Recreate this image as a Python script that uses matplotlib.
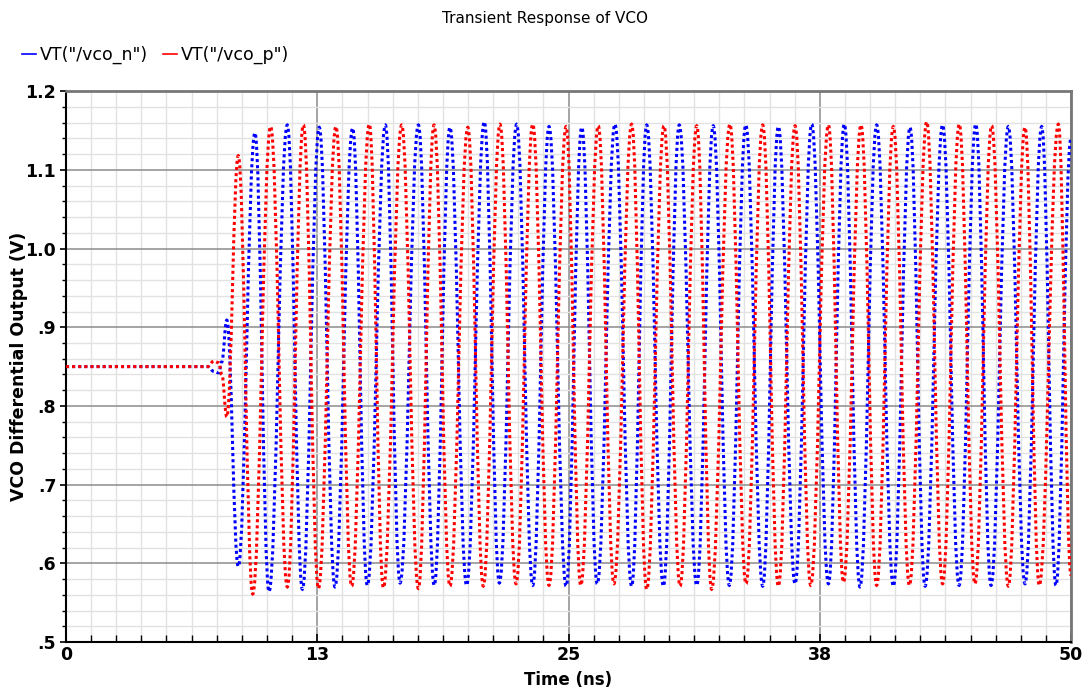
import numpy as np
import matplotlib
matplotlib.use("Agg")
import matplotlib.pyplot as plt
from matplotlib.ticker import MultipleLocator, FixedLocator
from matplotlib.lines import Line2D
from matplotlib.path import Path
from matplotlib.patches import PathPatch

# extrema of each waveform (time in ns, volts)
vco_n_t = [0, 7.05, 7.35, 7.6, 7.75, 8.0, 8.57, 9.40, 10.10, 11.01, 11.76, 12.60, 13.38,
           14.26, 14.99, 15.89, 16.62, 17.53, 18.32, 19.10, 19.93, 20.81, 21.56, 22.42,
           23.22, 24.03, 24.88, 25.66, 26.43, 27.31, 28.14, 28.89, 29.72, 30.51, 31.38,
           32.20, 33.00, 33.82, 34.66, 35.44, 36.27, 37.10, 37.93, 38.72, 39.50, 40.33,
           41.16, 41.99, 42.74, 43.61, 44.43, 45.26, 46.02, 46.88, 47.71, 48.54, 49.25, 50.0]
vco_n_v = [0.85, 0.85, 0.844, 0.842, 0.856, 0.909, 0.596, 1.147, 0.564, 1.157, 0.567, 1.154,
           0.570, 1.153, 0.572, 1.157, 0.575, 1.157, 0.572, 1.154, 0.572, 1.161, 0.575, 1.158,
           0.572, 1.155, 0.571, 1.154, 0.574, 1.158, 0.571, 1.157, 0.571, 1.157, 0.572, 1.156,
           0.572, 1.157, 0.571, 1.155, 0.574, 1.158, 0.574, 1.158, 0.570, 1.157, 0.571, 1.154,
           0.571, 1.157, 0.572, 1.158, 0.572, 1.155, 0.574, 1.155, 0.572, 1.14]

vco_p_t = [0, 7.05, 7.35, 7.6, 7.75, 8.0, 8.57, 9.29, 10.18, 11.01, 11.81, 12.56, 13.43,
           14.21, 15.09, 15.79, 16.70, 17.53, 18.31, 19.10, 19.99, 20.76, 21.59, 22.39,
           23.22, 24.03, 24.88, 25.61, 26.48, 27.26, 28.14, 28.89, 29.75, 30.55, 31.38,
           32.12, 33.03, 33.83, 34.66, 35.44, 36.27, 37.05, 37.93, 38.68, 39.55, 40.33,
           41.16, 41.96, 42.82, 43.61, 44.44, 45.22, 46.05, 46.88, 47.71, 48.42, 49.37, 50.0]
vco_p_v = [0.85, 0.85, 0.857, 0.855, 0.84, 0.786, 1.118, 0.561, 1.155, 0.570, 1.157, 0.568,
           1.155, 0.571, 1.158, 0.569, 1.157, 0.568, 1.157, 0.571, 1.154, 0.571, 1.158, 0.574,
           1.158, 0.572, 1.155, 0.572, 1.156, 0.574, 1.158, 0.567, 1.156, 0.571, 1.156, 0.567,
           1.158, 0.574, 1.157, 0.571, 1.156, 0.572, 1.157, 0.576, 1.157, 0.572, 1.155, 0.572,
           1.161, 0.574, 1.158, 0.574, 1.156, 0.571, 1.154, 0.572, 1.158, 0.585]

x_ticks = [0, 12.5, 25, 37.5, 50]
x_labels = ["0", "13", "25", "38", "50"]
y_ticks = [0.5, 0.6, 0.7, 0.8, 0.9, 1.0, 1.1, 1.2]
y_labels = [".5", ".6", ".7", ".8", ".9", "1.0", "1.1", "1.2"]


def smooth_trace(ax, t, v, color, z):
    # join the extrema with bezier segments that are flat at each extremum
    verts = [(t[0], v[0])]
    codes = [Path.MOVETO]
    for i in range(1, len(t)):
        dt = t[i] - t[i - 1]
        verts += [(t[i - 1] + 0.4 * dt, v[i - 1]), (t[i] - 0.4 * dt, v[i]), (t[i], v[i])]
        codes += [Path.CURVE4] * 3
    patch = PathPatch(Path(verts, codes), fill=False, edgecolor=color, lw=2.2,
                      ls=(0, (1, 1)), zorder=z)
    ax.add_patch(patch)


fig = plt.figure(figsize=(10.89, 6.96), dpi=100)
ax = fig.add_axes([0.0606, 0.0776, 0.9229, 0.7914])

smooth_trace(ax, vco_n_t, vco_n_v, "#0000ff", 3)
smooth_trace(ax, vco_p_t, vco_p_v, "#ff0000", 4)

ax.set_xlim(0, 50)
ax.set_ylim(0.5, 1.2)
ax.xaxis.set_major_locator(FixedLocator(x_ticks))
ax.set_xticklabels(x_labels)
ax.yaxis.set_major_locator(FixedLocator(y_ticks))
ax.set_yticklabels(y_labels)
ax.xaxis.set_minor_locator(MultipleLocator(1.25))
ax.yaxis.set_minor_locator(MultipleLocator(0.02))

ax.grid(which="minor", color="#e2e2e2", lw=1.0, zorder=0)
ax.grid(which="major", color="#8c8c8c", lw=1.1, zorder=1)
ax.set_axisbelow(True)

ax.tick_params(axis="y", which="major", direction="out", length=4, width=1.2)
ax.tick_params(axis="y", which="minor", direction="out", length=3, width=1.0)
ax.tick_params(axis="x", which="major", direction="in", length=6, width=1.2)
ax.tick_params(axis="x", which="minor", direction="in", length=5, width=1.0)
ax.tick_params(which="major", labelsize=12.5, pad=3)
for lab in ax.get_xticklabels() + ax.get_yticklabels():
    lab.set_fontweight("bold")

ax.spines["left"].set_color("black")
ax.spines["left"].set_linewidth(1.5)
ax.spines["bottom"].set_color("black")
ax.spines["bottom"].set_linewidth(1.5)
ax.spines["top"].set_color("#777777")
ax.spines["top"].set_linewidth(2)
ax.spines["right"].set_color("#777777")
ax.spines["right"].set_linewidth(2)

ax.set_xlabel("Time (ns)", fontsize=12, fontweight="bold", labelpad=5)
ax.set_ylabel("VCO Differential Output (V)", fontsize=12.5, fontweight="bold", labelpad=-2)

fig.text(0.5, 0.973, "Transient Response of VCO", ha="center", va="center", fontsize=11)

handles = [Line2D([], [], color="#0000ff", lw=1.2), Line2D([], [], color="#ff0000", lw=1.2)]
fig.legend(handles, ['VT("/vco_n")', 'VT("/vco_p")'], loc="center left",
           bbox_to_anchor=(0.006, 0.921), ncol=2, frameon=False, fontsize=12.5,
           handlelength=0.8, handletextpad=0.2, columnspacing=0.9)

fig.savefig("out.png", dpi=100)
